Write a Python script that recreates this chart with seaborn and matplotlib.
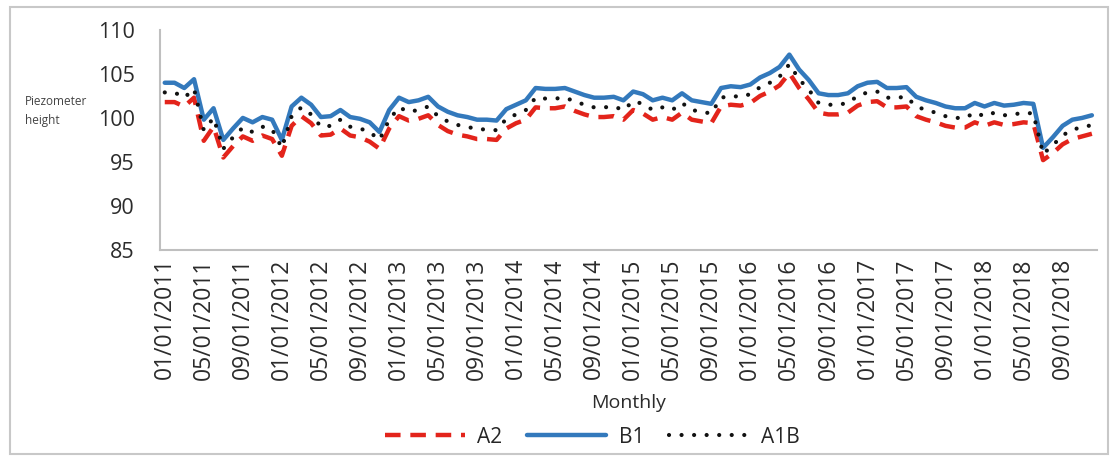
import numpy as np
import pandas as pd
import matplotlib
matplotlib.use("Agg")
import matplotlib.pyplot as plt
from matplotlib.patches import Rectangle
import seaborn as sns

months = [d.strftime("%m/%d/%Y") for d in pd.date_range("2011-01-01", "2018-12-01", freq="MS")]

B1 = [104.0, 104.0, 103.4, 104.4, 99.8, 101.1, 97.5, 98.8, 100.0, 99.5, 100.1, 99.8,
      97.5, 101.3, 102.3, 101.5, 100.1, 100.2, 100.9, 100.1, 99.9, 99.5, 98.4, 100.9,
      102.3, 101.8, 102.0, 102.4, 101.3, 100.7, 100.3, 100.1, 99.8, 99.8, 99.7, 101.0,
      101.5, 102.0, 103.4, 103.3, 103.3, 103.4, 103.0, 102.6, 102.3, 102.3, 102.4, 102.0,
      103.0, 102.7, 102.0, 102.3, 102.0, 102.8, 102.0, 101.8, 101.6, 103.4, 103.6, 103.5,
      103.8, 104.6, 105.1, 105.8, 107.2, 105.5, 104.3, 102.8, 102.6, 102.6, 102.8, 103.6,
      104.0, 104.1, 103.4, 103.4, 103.5, 102.4, 102.0, 101.7, 101.3, 101.1, 101.1, 101.7,
      101.3, 101.7, 101.4, 101.5, 101.7, 101.6, 96.6, 97.8, 99.1, 99.8, 100.0, 100.3]

A2 = [101.8, 101.8, 101.3, 102.3, 97.4, 99.0, 95.5, 96.8, 97.9, 97.4, 98.0, 97.6,
      95.7, 99.1, 100.2, 99.4, 98.0, 98.1, 98.8, 98.0, 97.8, 97.3, 96.5, 98.8,
      100.2, 99.7, 99.9, 100.3, 99.2, 98.5, 98.1, 97.9, 97.6, 97.6, 97.5, 98.8,
      99.4, 99.8, 101.2, 101.1, 101.1, 101.3, 100.8, 100.4, 100.1, 100.1, 100.2, 99.8,
      100.9, 100.5, 99.8, 100.1, 99.8, 100.6, 99.8, 99.6, 99.4, 101.3, 101.5, 101.4,
      101.7, 102.5, 103.0, 103.7, 105.1, 103.4, 102.1, 100.6, 100.4, 100.4, 100.6, 101.4,
      101.8, 101.9, 101.2, 101.2, 101.3, 100.2, 99.8, 99.5, 99.1, 98.9, 98.9, 99.5,
      99.1, 99.5, 99.2, 99.3, 99.5, 99.4, 95.2, 96.0, 97.0, 97.6, 97.9, 98.2]

A1B = [102.9, 102.9, 102.3, 103.3, 98.6, 100.0, 96.5, 97.8, 98.9, 98.4, 99.0, 98.7,
       96.6, 100.2, 101.2, 100.4, 99.0, 99.1, 99.8, 99.0, 98.8, 98.4, 97.5, 99.8,
       101.2, 100.7, 100.9, 101.3, 100.2, 99.6, 99.2, 99.0, 98.7, 98.7, 98.6, 99.9,
       100.4, 100.9, 102.3, 102.2, 102.2, 102.3, 101.9, 101.5, 101.2, 101.2, 101.3, 100.9,
       101.9, 101.6, 100.9, 101.2, 100.9, 101.7, 100.9, 100.7, 100.5, 102.3, 102.5, 102.4,
       102.7, 103.5, 104.0, 104.7, 106.1, 104.4, 103.2, 101.7, 101.5, 101.5, 101.7, 102.5,
       102.9, 103.0, 102.3, 102.3, 102.4, 101.3, 100.9, 100.6, 100.2, 100.0, 100.0, 100.6,
       100.2, 100.6, 100.3, 100.4, 100.6, 100.5, 95.9, 96.9, 98.0, 98.7, 98.9, 99.2]

y_ticks = [85, 90, 95, 100, 105, 110]

sns.set_theme(style="white")
plt.rcParams["font.family"] = ["Open Sans", "DejaVu Sans"]

df = pd.DataFrame({"idx": np.arange(len(months)), "A2": A2, "B1": B1, "A1B": A1B})

fig = plt.figure(figsize=(11.18, 4.61), dpi=100)
ax = fig.add_axes([0.143, 0.458, 0.838, 0.477])

sns.lineplot(data=df, x="idx", y="A2", ax=ax, color="#E3241B", lw=3.2,
             label="A2", zorder=2)
ax.lines[-1].set_dashes([3.5, 2.2])
sns.lineplot(data=df, x="idx", y="B1", ax=ax, color="#3379BC", lw=3.2,
             label="B1", zorder=3)
sns.lineplot(data=df, x="idx", y="A1B", ax=ax, color="#111111", lw=3.0,
             label="A1B", zorder=4)
ax.lines[-1].set_dashes([0.01, 3.0])
ax.lines[-1].set_dash_capstyle("round")

ax.set_xlim(-0.5, len(months) - 0.5)
ax.set_ylim(85, 110)
ax.set_yticks(y_ticks)
ax.set_yticklabels([str(v) for v in y_ticks], fontsize=15.5, color="#2b2b2b")
ax.set_xticks(np.arange(0, len(months), 4))
ax.set_xticklabels(months[::4], rotation=90, fontsize=16.5, color="#2b2b2b")
ax.tick_params(axis="both", length=0)
ax.tick_params(axis="y", pad=18)
ax.tick_params(axis="x", pad=6)
ax.set_xlabel("Monthly", fontsize=14, color="#2b2b2b", labelpad=10)
ax.set_ylabel("")
for s in ["top", "right"]:
    ax.spines[s].set_visible(False)
for s in ["left", "bottom"]:
    ax.spines[s].set_color("#BFBFBF")
    ax.spines[s].set_linewidth(1.5)
ax.grid(False)

fig.text(0.022, 0.76, "Piezometer\nheight", fontsize=8.5, color="#444444",
         ha="left", va="center", linespacing=1.6)

handles, labels = ax.get_legend_handles_labels()
leg = ax.legend(handles, labels, loc="center", ncol=3, frameon=False,
                fontsize=15, handlelength=3.8, columnspacing=1.2, handletextpad=0.6)
leg.set_bbox_to_anchor((0.53, 1 - 437 / 461), transform=fig.transFigure)

fig.patches.append(Rectangle((0.009, 0.015), 0.982, 0.97, transform=fig.transFigure,
                             fill=False, edgecolor="#C8C8C8", lw=1.5))

fig.savefig("out.png", dpi=100)
